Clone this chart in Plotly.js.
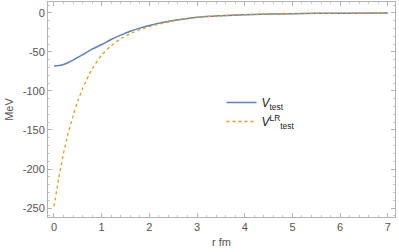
<!DOCTYPE html>
<html><head><meta charset="utf-8">
<script src="https://cdn.plot.ly/plotly-3.0.1.min.js"></script>
<style>html,body{margin:0;padding:0;background:#fff}</style>
</head><body><div id="chart" style="width:399px;height:252px"></div>
<script>
const r = [0, 0.1, 0.2, 0.3, 0.4, 0.5, 0.6, 0.8, 1.0, 1.2, 1.4, 1.6, 1.8, 2.0, 2.5, 3.0, 3.5, 4.0, 5.0, 6.0, 7.0];
const vTest = [-68, -67.5, -66, -63.5, -60.5, -57, -53.5, -46.5, -40.5, -34, -28.5, -23.5, -19.5, -16, -9.8, -5.5, -3.5, -2.2, -0.9, -0.3, -0.1];
const vTestLR = [-248, -212, -180, -154, -132, -113, -97, -72, -54, -42, -33, -26.5, -21.5, -17.5, -10.3, -5.7, -3.6, -2.2, -0.9, -0.3, -0.1];
const names = ['<i>V</i><sub>test</sub>', '<i>V</i><sup>LR</sup><sub>test</sub>'];
const xTicks = [0, 1, 2, 3, 4, 5, 6, 7];
const yTicks = [0, -50, -100, -150, -200, -250];

const axisCommon = {
  showgrid: false, zeroline: false, showline: true, linecolor: '#b3b3b3', linewidth: 1,
  mirror: 'ticks', ticks: 'inside', ticklen: 4, tickcolor: '#b3b3b3', tickwidth: 1,
  tickfont: {family: 'Liberation Sans, Arial, sans-serif', size: 11, color: '#555'},
  tickmode: 'array'
};
const layout = {
  width: 399, height: 252,
  margin: {l: 48, r: 4, t: 2, b: 35},
  paper_bgcolor: '#fff', plot_bgcolor: '#fff',
  font: {family: 'Liberation Sans, Arial, sans-serif', color: '#555'},
  xaxis: Object.assign({}, axisCommon, {
    range: [-0.125, 7.15], tickvals: xTicks, ticktext: xTicks.map(String),
    minor: {dtick: 0.2, ticks: 'inside', ticklen: 2, tickcolor: '#c8c8c8'},
    title: {text: 'r fm', font: {size: 11, color: '#555'}, standoff: 6}
  }),
  yaxis: Object.assign({}, axisCommon, {
    range: [-261.5, 14], tickvals: yTicks, ticktext: yTicks.map(String),
    minor: {dtick: 10, ticks: 'inside', ticklen: 2, tickcolor: '#c8c8c8'},
    title: {text: 'MeV', font: {size: 11, color: '#555'}, standoff: 6}
  }),
  showlegend: true,
  legend: {x: 0.50, y: 0.60, xanchor: 'left', yanchor: 'top', bgcolor: 'rgba(0,0,0,0)',
    font: {family: 'Liberation Sans, Arial, sans-serif', size: 12, color: '#222'}, tracegroupgap: 0}
};
const data = [
  {x: r, y: vTest, type: 'scatter', mode: 'lines', name: names[0],
   line: {color: '#5E81B5', width: 1.5, shape: 'spline', smoothing: 0.8}},
  {x: r, y: vTestLR, type: 'scatter', mode: 'lines', name: names[1],
   line: {color: '#E19C24', width: 1.3, dash: 'dot', shape: 'spline', smoothing: 0.8}}
];
Plotly.newPlot('chart', data, layout, {staticPlot: true, displayModeBar: false});
</script></body></html>
